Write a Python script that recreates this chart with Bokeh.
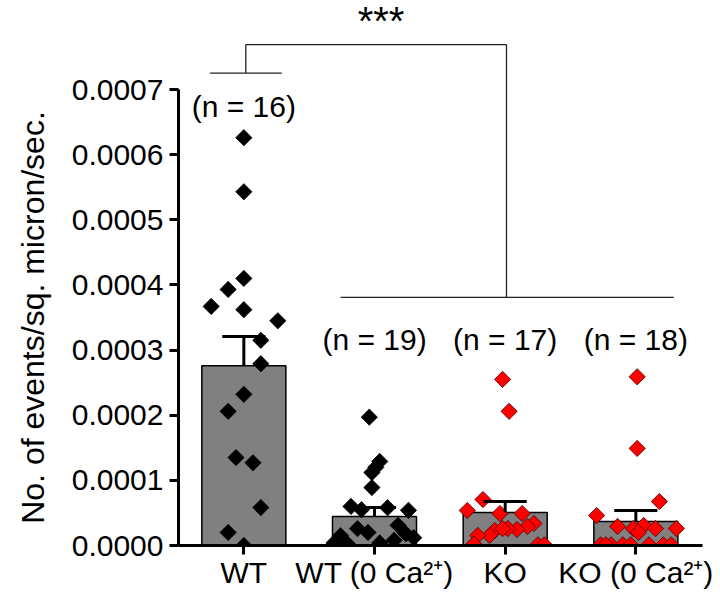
import numpy as np
from bokeh.plotting import figure
from bokeh.models import FixedTicker, PrintfTickFormatter
from bokeh.core.properties import value
from bokeh.embed import file_html
from bokeh.resources import INLINE

# ---------------- data ----------------
groups = ["WT", "WT (0 Ca²⁺)", "KO", "KO (0 Ca²⁺)"]
group_pos = [1, 2, 3, 4]
means = [0.000276, 0.0000445, 0.0000507, 0.0000368]
sems = [0.0000450, 0.0000138, 0.0000168, 0.0000169]
n_labels = ["(n = 16)", "(n = 19)", "(n = 17)", "(n = 18)"]
n_label_y = [0.000674, 0.000316, 0.000316, 0.000316]

wt_vals = [0.000626, 0.000543, 0.000410, 0.000393, 0.000367, 0.000362, 0.000345,
           0.000315, 0.000279, 0.000232, 0.000206, 0.000135, 0.000127, 0.0000583,
           0.000020, 0.000000]
wt_jit = [0.0, 0.0, 0.0, -0.12, -0.25, 0.0, 0.26, 0.13, 0.13, 0.0, -0.12, -0.06,
          0.07, 0.13, -0.12, 0.0]

wt0_vals = [0.000197, 0.000129, 0.000120, 0.000112, 0.000089, 0.000060, 0.000055,
            0.000058, 0.000054, 0.000026, 0.000020, 0.000031, 0.000018, 0.000012,
            0.000015, 0.000004, 0.000004, 0.000008, 0.000003]
wt0_jit = [-0.04, 0.04, 0.01, -0.02, -0.02, -0.18, -0.10, 0.10, 0.26, -0.13, -0.05,
           0.18, 0.24, 0.30, -0.26, -0.31, 0.04, 0.15, -0.21]

ko_vals = [0.000255, 0.000206, 0.0000706, 0.0000537, 0.0000491, 0.0000491, 0.0000338,
           0.0000292, 0.0000246, 0.0000261, 0.000023, 0.0000154, 0.0000154, 0.000002,
           0.000001, 0.000001, 0.000026]
ko_jit = [-0.02, 0.03, -0.17, -0.29, -0.04, 0.13, 0.22, 0.17, 0.09, 0.02, -0.08, -0.12,
          -0.21, -0.24, 0.25, 0.30, -0.02]

ko0_vals = [0.000259, 0.000149, 0.0000675, 0.0000460, 0.0000292, 0.0000261, 0.0000307,
            0.0000261, 0.0000261, 0.000020, 0.000001, 0.000001, 0.000001, 0.000001,
            0.000001, 0.000001, 0.000001, 0.000001]
ko0_jit = [0.01, 0.01, 0.18, -0.30, -0.14, -0.02, 0.06, 0.15, 0.31, 0.02, -0.27, -0.19,
           -0.10, -0.04, 0.10, 0.21, 0.27, -0.23]

y_ticks = [0.0, 0.0001, 0.0002, 0.0003, 0.0004, 0.0005, 0.0006, 0.0007]

# significance bracket segments
br_x0 = [0.74, 1.015, 1.015, 3.01, 1.74]
br_x1 = [1.29, 1.015, 3.01, 3.01, 4.29]
br_y0 = [0.000725, 0.000725, 0.000769, 0.000769, 0.000381]
br_y1 = [0.000725, 0.000769, 0.000769, 0.000381, 0.000381]
star_x = [2.05]
star_y = [0.000805]
star_text = ["***"]

FONT = "Liberation Sans"

p = figure(width=720, height=594, x_range=(0.5, 4.51), y_range=(0, 0.0007),
           output_backend="svg", toolbar_location=None,
           min_border_left=178, min_border_right=18, min_border_top=89,
           min_border_bottom=49)
p.grid.visible = False
p.outline_line_color = None
p.background_fill_color = "white"

for ax in (p.xaxis, p.yaxis):
    ax.axis_line_width = 3
    ax.axis_line_color = "black"
    ax.major_tick_line_width = 3
    ax.major_tick_line_color = "black"
    ax.major_tick_in = 0
    ax.major_tick_out = 9
    ax.minor_tick_line_color = None
    ax.major_label_text_font = FONT
    ax.major_label_text_color = "black"

p.xaxis.ticker = FixedTicker(ticks=group_pos)
p.xaxis.major_label_overrides = {pos: g for pos, g in zip(group_pos, groups)}
p.xaxis.major_label_text_font_size = "30px"
p.xaxis.major_label_standoff = 1

p.yaxis.ticker = FixedTicker(ticks=y_ticks)
p.yaxis.formatter = PrintfTickFormatter(format="%.4f")
p.yaxis.major_label_text_font_size = "30px"
p.yaxis.major_label_standoff = 6
p.yaxis.axis_label = "No. of events/sq. micron/sec."
p.yaxis.axis_label_text_font = FONT
p.yaxis.axis_label_text_font_size = "32px"
p.yaxis.axis_label_text_font_style = "normal"
p.yaxis.axis_label_text_color = "black"
p.yaxis.axis_label_standoff = 18

# bars
p.vbar(x=group_pos, top=means, bottom=0, width=0.643,
       fill_color="#808080", line_color="black", line_width=1.5)

# points
def pts(vals, jit, pos, fill, line):
    xs = [pos + j for j in jit]
    p.scatter(x=xs, y=vals, marker="square", size=11.5, angle=np.pi / 4,
              fill_color=fill, line_color=line, line_width=0.8)

pts(wt_vals, wt_jit, group_pos[0], "black", "black")
pts(wt0_vals, wt0_jit, group_pos[1], "black", "black")
pts(ko_vals, ko_jit, group_pos[2], "#ff0000", "#4a0000")
pts(ko0_vals, ko0_jit, group_pos[3], "#ff0000", "#4a0000")

# error bars (upper only)
tops = [m + s for m, s in zip(means, sems)]
cap = 0.165
p.segment(x0=group_pos, y0=means, x1=group_pos, y1=tops, line_color="black", line_width=3)
p.segment(x0=[g - cap for g in group_pos], y0=tops, x1=[g + cap for g in group_pos], y1=tops,
          line_color="black", line_width=3)

# n labels
p.text(x=group_pos, y=n_label_y, text=n_labels, text_align="center", text_baseline="middle",
       text_font=value(FONT), text_font_size="30px", text_color="black")

# significance bracket
p.segment(x0=br_x0, y0=br_y0, x1=br_x1, y1=br_y1, line_color="#222222", line_width=1.3,
          level="overlay")
p.text(x=star_x, y=star_y, text=star_text, text_align="center", text_baseline="middle",
       text_font=value(FONT), text_font_size="40px", text_color="black", level="overlay")

open("out.html", "w").write(file_html(p, INLINE))
